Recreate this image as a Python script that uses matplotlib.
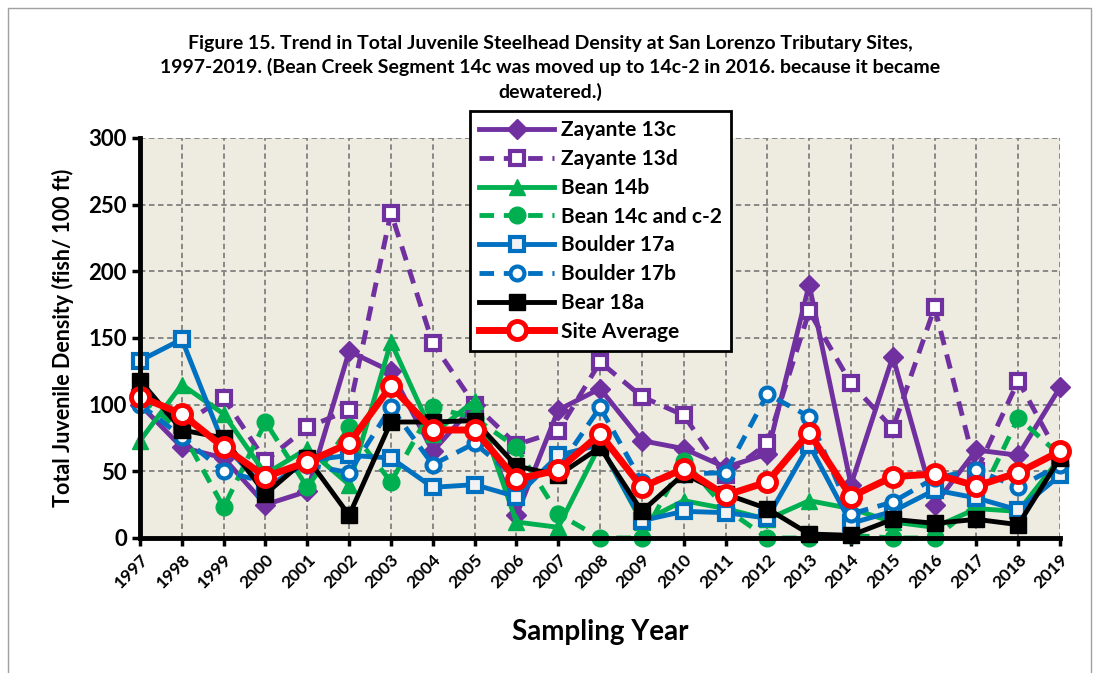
import matplotlib
matplotlib.use('Agg')
import matplotlib.pyplot as plt
from matplotlib.patches import Rectangle

plt.rcParams['font.family'] = ['Lato', 'DejaVu Sans']
plt.rcParams['font.weight'] = 'bold'

years = list(range(1997, 2020))

zayante_13c = [100, 68, 60, 25, 35, 140, 125, 65, 100, 17, 96, 112, 73, 67, 53, 63, 190, 40, 136, 25, 66, 62, 113]
zayante_13d = [105, 85, 105, 58, 83, 96, 244, 146, 100, 70, 80, 132, 106, 92, 47, 71, 170, 116, 82, 173, 50, 118, 60]
bean_14b = [73, 115, 93, 48, 67, 40, 147, 78, 103, 12, 8, 70, 12, 28, 22, 14, 28, 22, 12, 8, 22, 20, 60]
bean_14c = [105, 80, 23, 87, 38, 83, 42, 98, 90, 68, 18, 0, 0, 58, 22, 0, 0, 2, 0, 0, 25, 90, 62]
boulder_17a = [133, 149, 70, 37, 58, 62, 60, 38, 40, 31, 62, 70, 13, 20, 19, 15, 70, 11, 20, 36, 30, 21, 47]
boulder_17b = [100, 76, 50, 42, 55, 49, 98, 55, 71, 45, 52, 98, 42, 48, 49, 108, 91, 18, 27, 45, 51, 38, 55]
bear_18a = [118, 81, 75, 33, 60, 17, 87, 87, 88, 54, 47, 68, 20, 48, 33, 22, 3, 2, 14, 11, 14, 10, 60]
site_avg = [106, 93, 68, 46, 57, 71, 114, 81, 81, 44, 51, 78, 38, 52, 32, 42, 79, 31, 46, 48, 39, 49, 65]

purple = '#7030A0'
green = '#00B050'
blue = '#0070C0'
dash = (0, (3, 2))

series = [
    ('Zayante 13c', zayante_13c, dict(color=purple, ls='-', marker='D', ms=10, mfc=purple, mec=purple)),
    ('Zayante 13d', zayante_13d, dict(color=purple, ls=dash, marker='s', ms=10, mfc='white', mec=purple, mew=3)),
    ('Bean 14b', bean_14b, dict(color=green, ls='-', marker='^', ms=12, mfc=green, mec=green)),
    ('Bean 14c and c-2', bean_14c, dict(color=green, ls=dash, marker='o', ms=12, mfc=green, mec=green)),
    ('Boulder 17a', boulder_17a, dict(color=blue, ls='-', marker='s', ms=10, mfc='#F2F2F2', mec=blue, mew=3)),
    ('Boulder 17b', boulder_17b, dict(color=blue, ls=dash, marker='o', ms=10, mfc='white', mec=blue, mew=3)),
    ('Bear 18a', bear_18a, dict(color='black', ls='-', marker='s', ms=12, mfc='black', mec='black')),
    ('Site Average', site_avg, dict(color='#FF0000', ls='-', lw=5, marker='o', ms=13, mfc='white', mec='#FF0000', mew=3.5)),
]

fig = plt.figure(figsize=(10.94, 6.73), dpi=100)
ax = fig.add_axes([0.128, 0.2006, 0.841, 0.5944])
ax.set_facecolor('#EEEBE0')

for name, vals, style in series:
    kw = dict(lw=3.5)
    kw.update(style)
    ax.plot(years, vals, label=name, clip_on=False, zorder=3, **kw)

ax.set_xlim(1997, 2019)
ax.set_ylim(0, 300)
ax.set_yticks(range(0, 301, 50))
ax.set_xticks(years)
ax.set_xticklabels([str(y) for y in years], rotation=45, ha='right', rotation_mode='anchor',
                   fontsize=12.5, fontweight='bold')
ax.tick_params(axis='y', labelsize=16, width=2.5, length=6)
ax.tick_params(axis='x', width=2.5, length=6)
for lab in ax.get_yticklabels():
    lab.set_fontweight('bold')

ax.grid(True, color='#808080', ls=(0, (3, 2)), lw=1.3)
ax.set_axisbelow(True)
for s in ['top', 'right']:
    ax.spines[s].set_visible(False)
for s in ['left', 'bottom']:
    ax.spines[s].set_linewidth(3.5)
    ax.spines[s].set_zorder(4)

ax.set_ylabel('Total Juvenile Density (fish/ 100 ft)', fontsize=15.5, fontweight='bold', labelpad=10)
ax.set_xlabel('Sampling Year', fontsize=20, fontweight='bold', labelpad=20)

fig.text(0.503, 0.948, 'Figure 15. Trend in Total Juvenile Steelhead Density at San Lorenzo Tributary Sites,\n'
         '1997-2019. (Bean Creek Segment 14c was moved up to 14c-2 in 2016. because it became\n'
         'dewatered.)', ha='center', va='top', fontsize=14, fontweight='bold', linespacing=1.42)

leg = fig.legend(loc='upper left', bbox_to_anchor=(0.4296, 0.835), fontsize=15, frameon=True,
                 fancybox=False, edgecolor='black', framealpha=1, numpoints=1, handlelength=3.6,
                 labelspacing=0.42, borderpad=0.45, handletextpad=0.3, borderaxespad=0)
leg.get_frame().set_linewidth(2)
for t in leg.get_texts():
    t.set_fontweight('bold')

fig.patches.append(Rectangle((0.007, -0.01), 0.99, 0.998, transform=fig.transFigure,
                             fill=False, edgecolor='#A0A0A0', lw=1))

fig.savefig('out.png', dpi=100)
